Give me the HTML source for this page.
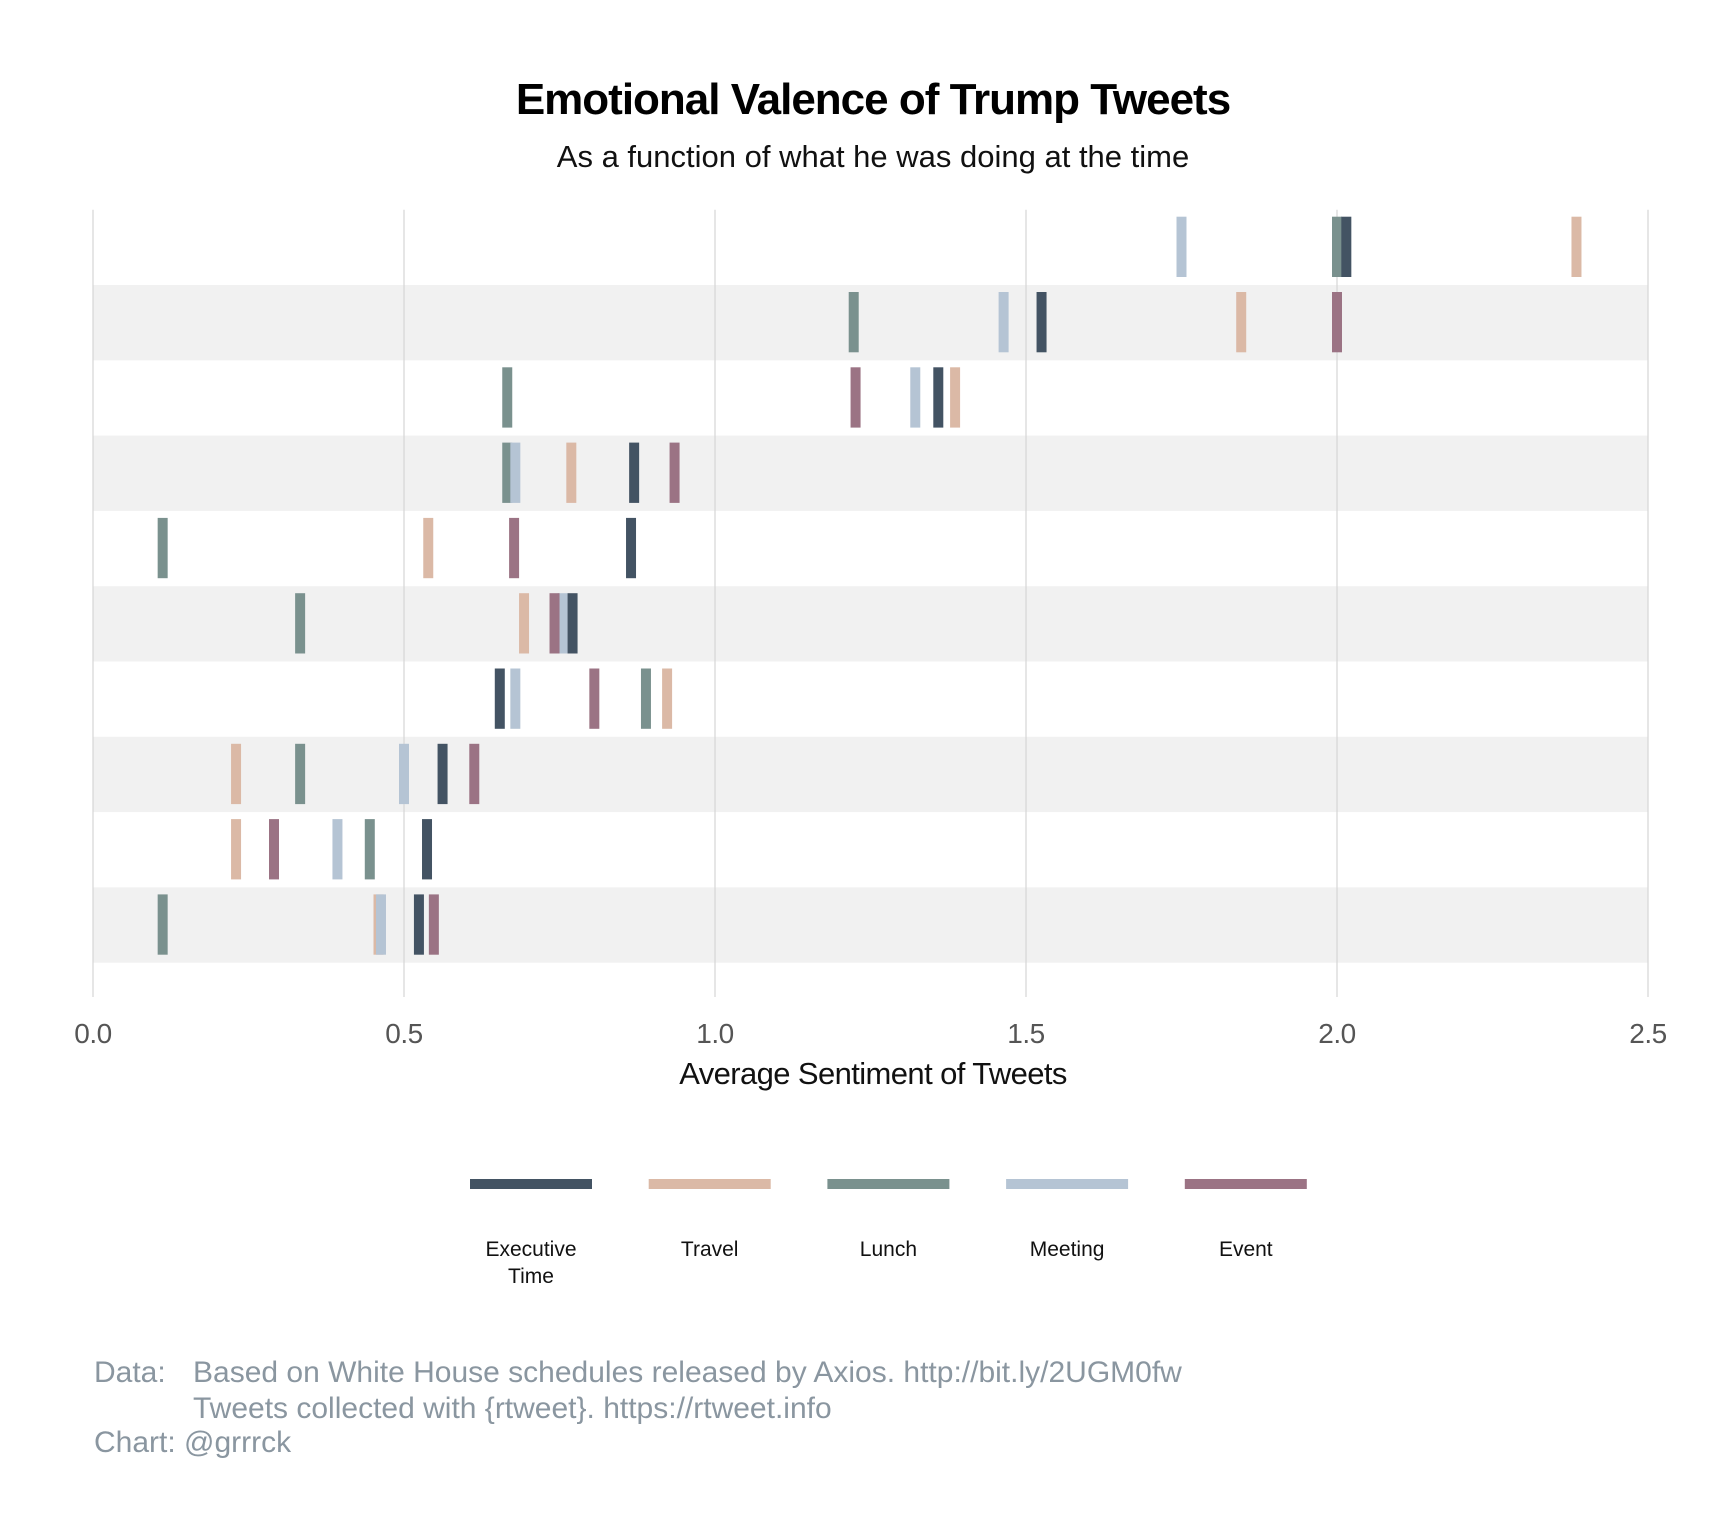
<!DOCTYPE html>
<html><head><meta charset="utf-8"><style>
html,body{margin:0;padding:0;background:#fff;}
svg{display:block;font-family:"Liberation Sans",sans-serif;}
</style></head><body>
<svg id="chart" width="1728" height="1536" viewBox="0 0 1728 1536">
<text x="873" y="114" text-anchor="middle" font-size="44" font-weight="bold" fill="#000" letter-spacing="-1">Emotional Valence of Trump Tweets</text>
<text x="873" y="167" text-anchor="middle" font-size="31" fill="#111">As a function of what he was doing at the time</text>
<g id="bands"></g>
<g id="grid"></g>
<g id="marks"></g>
<g id="ticks"></g>
<text x="873" y="1084" text-anchor="middle" font-size="31" fill="#111" letter-spacing="-0.6">Average Sentiment of Tweets</text>
<g id="legend"></g>
<g fill="#8a96a0" font-size="30">
<text x="94" y="1382">Data:</text>
<text x="193" y="1382">Based on White House schedules released by Axios. http://bit.ly/2UGM0fw</text>
<text x="193" y="1418">Tweets collected with {rtweet}. https://rtweet.info</text>
<text x="94" y="1452">Chart: @grrrck</text>
</g>
</svg>
<script>
const categories = ["Executive Time","Travel","Lunch","Meeting","Event"];
const execTime = [2.015,1.525,1.359,0.870,0.865,0.771,0.654,0.562,0.537,0.524];
const travel   = [2.385,1.846,1.386,0.769,0.539,0.693,0.923,0.230,0.230,0.459];
const lunch    = [2.000,1.223,0.666,0.666,0.112,0.333,0.889,0.333,0.445,0.112];
const meeting  = [1.750,1.464,1.322,0.679,null,0.755,0.679,0.500,0.393,0.463];
const eventV   = [null,2.000,1.226,0.935,0.677,0.742,0.806,0.613,0.291,0.548];
const xTicks = [0,0.5,1.0,1.5,2.0,2.5];
const xTickLabels = ["0.0","0.5","1.0","1.5","2.0","2.5"];

const NS="http://www.w3.org/2000/svg";
const X0=93,X1=1648,XMAX=2.5,TOP=209.7,RH=75.3,NROWS=10;
const xs=v=>X0+(v/XMAX)*(X1-X0);
const yRow=i=>TOP+i*RH;
function mk(tag,attrs,parent){const e=document.createElementNS(NS,tag);for(const k in attrs)e.setAttribute(k,attrs[k]);parent.appendChild(e);return e;}
const bands=document.getElementById('bands');
for(let i=0;i<NROWS;i++){
  if(i%2===1){
    const r=mk('rect',{x:X0,y:yRow(i),width:X1-X0,height:RH,fill:'#f1f1f1'},bands);
    
    
  }
}
const grid=document.getElementById('grid'),ticks=document.getElementById('ticks');
xTicks.forEach((t,k)=>{
  const l=mk('line',{x1:xs(t),x2:xs(t),y1:TOP,y2:997,stroke:'#d6d6d6','stroke-width':1.2},grid);
  
  
  const tx=mk('text',{x:xs(t),y:1043,'text-anchor':'middle','font-size':28,fill:'#555','letter-spacing':'-0.5'},ticks);
  tx.textContent=xTickLabels[k];
  
  
});
const colors=["#435363","#dbb9a6","#7a918e","#b5c4d4","#9b7384"];
const series=[lunch,travel,meeting,eventV,execTime];
const order=[2,1,3,4,0];
const marks=document.getElementById('marks');
order.forEach((ci,si)=>{
  const arr=series[si];
  arr.forEach((v,i)=>{
    if(v===null)return;
    const r=mk('rect',{x:xs(v)-5,y:yRow(i)+7,width:10,height:RH-15,fill:colors[ci]},marks);
    
    
  });
});
const legend=document.getElementById('legend');
categories.forEach((c,i)=>{
  const lx=470+i*178.7;
  const r=mk('rect',{x:lx,y:1179,width:122,height:10,fill:colors[i]},legend);
  
  
  const parts=c==="Executive Time"?["Executive","Time"]:[c];
  parts.forEach((p,j)=>{
    const t=mk('text',{x:lx+61,y:1256+j*27,'text-anchor':'middle','font-size':21,fill:'#111'},legend);
    t.textContent=p;
    
    
  });
});
</script>
</body></html>
